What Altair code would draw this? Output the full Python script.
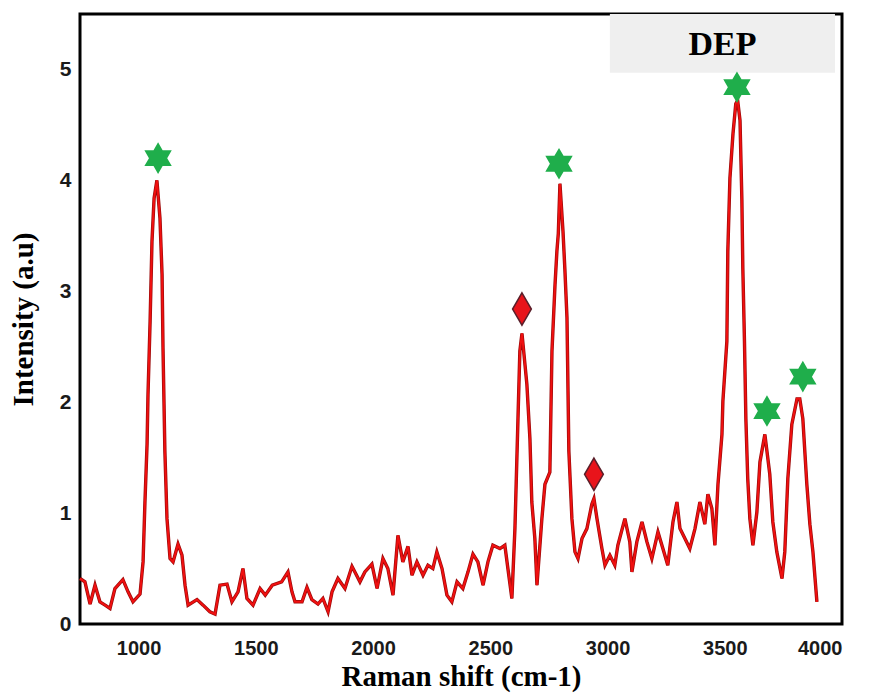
import altair as alt
import pandas as pd

# Raman spectrum (DEP)
shift = [750, 771, 793, 814, 835, 857, 878, 899, 933, 955, 976, 1006, 1019, 1027, 1036, 1040,
         1049, 1057, 1066, 1078, 1091, 1100, 1104, 1112, 1121, 1134, 1147, 1168, 1185, 1198,
         1211, 1249, 1275, 1304, 1326, 1347, 1377, 1398, 1424, 1445, 1462, 1488, 1518, 1540,
         1570, 1610, 1637, 1654, 1667, 1697, 1718, 1739, 1765, 1786, 1808, 1825, 1850, 1880,
         1910, 1944, 1965, 1995, 2017, 2042, 2063, 2085, 2106, 2127, 2149, 2166, 2187, 2213,
         2234, 2255, 2272, 2294, 2315, 2336, 2358, 2383, 2405, 2426, 2447, 2469, 2490, 2511,
         2541, 2562, 2575, 2592, 2605, 2618, 2626, 2635, 2656, 2669, 2677, 2690, 2699, 2720,
         2733, 2754, 2763, 2776, 2784, 2790, 2797, 2810, 2818, 2827, 2835, 2848, 2861, 2874,
         2891, 2912, 2933, 2942, 2955, 2976, 2989, 3010, 3031, 3044, 3074, 3095, 3104, 3125,
         3147, 3168, 3189, 3215, 3236, 3257, 3279, 3296, 3309, 3330, 3351, 3373, 3394, 3415,
         3428, 3445, 3458, 3471, 3488, 3492, 3509, 3513, 3522, 3535, 3547, 3555, 3565, 3573,
         3577, 3584, 3590, 3598, 3607, 3620, 3637, 3650, 3671, 3692, 3705, 3722, 3744, 3756,
         3769, 3786, 3808, 3820, 3833, 3850, 3863, 3876, 3893]
intensity = [0.41, 0.38, 0.18, 0.35, 0.20, 0.17, 0.14, 0.32, 0.40, 0.29, 0.20, 0.27, 0.56, 1.10, 1.62, 2.07,
             2.73, 3.45, 3.84, 4.00, 3.66, 3.15, 2.49, 1.56, 0.95, 0.59, 0.56, 0.72, 0.62, 0.35,
             0.17, 0.22, 0.17, 0.11, 0.09, 0.35, 0.36, 0.20, 0.29, 0.50, 0.23, 0.17, 0.32, 0.26,
             0.35, 0.38, 0.47, 0.29, 0.20, 0.20, 0.33, 0.22, 0.18, 0.23, 0.11, 0.29, 0.41, 0.32,
             0.52, 0.38, 0.47, 0.54, 0.32, 0.59, 0.50, 0.26, 0.80, 0.56, 0.70, 0.44, 0.56, 0.44,
             0.53, 0.50, 0.65, 0.50, 0.26, 0.20, 0.38, 0.32, 0.47, 0.63, 0.56, 0.35, 0.56, 0.71,
             0.68, 0.71, 0.50, 0.23, 0.86, 1.85, 2.46, 2.62, 2.16, 1.67, 1.10, 0.77, 0.35, 0.95,
             1.26, 1.37, 2.46, 3.06, 3.36, 3.52, 3.97, 3.54, 3.20, 2.76, 1.56, 0.95, 0.65, 0.59,
             0.77, 0.86, 1.08, 1.13, 0.95, 0.68, 0.53, 0.62, 0.53, 0.71, 0.95, 0.74, 0.47, 0.74,
             0.92, 0.74, 0.59, 0.83, 0.68, 0.53, 0.92, 1.10, 0.86, 0.77, 0.68, 0.86, 1.10, 0.90,
             1.17, 1.04, 0.71, 1.26, 1.71, 2.01, 2.55, 3.36, 4.02, 4.42, 4.69, 4.72, 4.54, 3.82,
             3.21, 2.55, 1.85, 1.31, 0.95, 0.71, 1.01, 1.46, 1.71, 1.35, 0.92, 0.65, 0.41, 0.65,
             1.31, 1.80, 2.03, 2.03, 1.85, 1.26, 0.90, 0.65, 0.20]

# peak markers
star_shift = [1083, 2793, 3552, 3680, 3833]
star_int = [4.20, 4.15, 4.84, 1.92, 2.23]
diamond_shift = [2635, 2942]
diamond_int = [2.84, 1.35]

# axes
X_DOMAIN = [750, 4000]
Y_DOMAIN = [0, 5.5]
X_TICKS = [1000, 1500, 2000, 2500, 3000, 3500, 4000]
Y_TICKS = [0, 1, 2, 3, 4, 5]

# sample label box
LABEL = "DEP"
LABEL_BOX_X = [3010, 3970]
LABEL_BOX_Y = [4.97, 5.5]
LABEL_POS = [3490, 5.22]

STAR_PATH = ("M0,-1L0.289,-0.5L0.866,-0.5L0.577,0L0.866,0.5L0.289,0.5L0,1"
             "L-0.289,0.5L-0.866,0.5L-0.577,0L-0.866,-0.5L-0.289,-0.5Z")
DIAMOND_PATH = "M0,-1L0.58,0L0,1L-0.58,0Z"

spec_df = pd.DataFrame({"shift": shift, "intensity": intensity})
star_df = pd.DataFrame({"shift": star_shift, "intensity": star_int})
diamond_df = pd.DataFrame({"shift": diamond_shift, "intensity": diamond_int})

x_enc = alt.X("shift:Q",
              scale=alt.Scale(domain=X_DOMAIN, nice=False, zero=False),
              axis=alt.Axis(values=X_TICKS, title="Raman shift (cm-1)", format="d",
                            labelPadding=14, titlePadding=4, labelFontSize=20))
y_enc = alt.Y("intensity:Q",
              scale=alt.Scale(domain=Y_DOMAIN, nice=False, zero=True),
              axis=alt.Axis(values=Y_TICKS, title="Intensity (a.u)", format="d",
                            labelPadding=9, titlePadding=27,
                            titleBaseline="alphabetic"))

box = alt.Chart(pd.DataFrame({"a": [0]})).mark_rect(color="#efefef").encode(
    x=alt.datum(LABEL_BOX_X[0]), x2=alt.datum(LABEL_BOX_X[1]),
    y=alt.datum(LABEL_BOX_Y[0]), y2=alt.datum(LABEL_BOX_Y[1]))

label = alt.Chart(pd.DataFrame({"a": [0]})).mark_text(
    text=LABEL, font="Liberation Serif", fontWeight="bold", fontSize=34,
    color="black", align="center", baseline="middle").encode(
    x=alt.datum(LABEL_POS[0]), y=alt.datum(LABEL_POS[1]))

line_dark = alt.Chart(spec_df).mark_line(color="#9a0a0a", strokeWidth=3.4).encode(
    x=x_enc, y=y_enc, order="shift:Q")
line_red = alt.Chart(spec_df).mark_line(color="#f01010", strokeWidth=2).encode(
    x=x_enc, y=y_enc, order="shift:Q")

stars = alt.Chart(star_df).mark_point(
    shape=STAR_PATH, size=1000, filled=True, color="#1fae4b", opacity=1).encode(
    x=x_enc, y=y_enc)
diamonds = alt.Chart(diamond_df).mark_point(
    shape=DIAMOND_PATH, size=1050, filled=True, fill="#e8141b", stroke="#5a1f2a",
    strokeWidth=1.5, opacity=1).encode(x=x_enc, y=y_enc)

chart = alt.layer(box, label, line_dark, line_red, stars, diamonds).properties(
    width=762, height=610,
    autosize=alt.AutoSizeParams(type="none"),
    padding={"left": 72, "top": 6, "right": 14, "bottom": 70},
).configure_view(
    stroke="black", strokeWidth=3
).configure_axis(
    grid=False, ticks=False, tickSize=0, domain=False,
    labelFont="Liberation Sans", labelFontWeight="bold", labelFontSize=21,
    labelColor="#1a1a1a",
    titleFont="Liberation Serif", titleFontWeight="bold", titleFontSize=29,
    titleColor="black"
)

chart.save("out.html", embed_options={"renderer": "svg", "actions": False})
